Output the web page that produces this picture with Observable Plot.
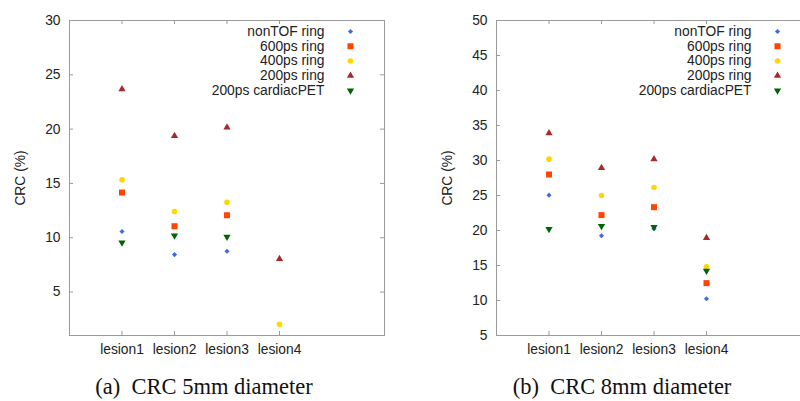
<!DOCTYPE html>
<html>
<head>
<meta charset="utf-8">
<script src="https://cdn.jsdelivr.net/npm/d3@7"></script>
<script src="https://cdn.jsdelivr.net/npm/@observablehq/plot@0.6"></script>
<style>
  html, body { margin: 0; padding: 0; background: #fff; }
  #wrap { position: relative; width: 800px; height: 401px; overflow: hidden; background: #fff; }
  .panel { position: absolute; top: 0; }
  .panel svg { max-width: none !important; }
  .cap { position: absolute; top: 374px; font-family: "Liberation Serif", "DejaVu Serif", serif; font-size: 22.5px; color: #111; white-space: pre; transform: translateX(-50%); }
</style>
</head>
<body>
<div id="wrap">
  <div id="left" class="panel" style="left:0px; width:400px"></div>
  <div id="right" class="panel" style="left:400px; width:420px"></div>
  <div class="cap" style="left:204px">(a)  CRC 5mm diameter</div>
  <div class="cap" style="left:622px">(b)  CRC 8mm diameter</div>
</div>
<script>
const lesions = ["lesion1", "lesion2", "lesion3", "lesion4"];
const series = ["nonTOF ring", "600ps ring", "400ps ring", "200ps ring", "200ps cardiacPET"];
const colors = ["#4169e1", "#ff4500", "#ffd700", "#a52a2a", "#006400"];

// CRC (%) for 5mm diameter lesions (null = not shown)
const crc5_nonTOF  = [10.57, 8.45, 8.76, null];
const crc5_600     = [14.16, 11.06, 12.07, null];
const crc5_400     = [15.33, 12.41, 13.27, 2.04];
const crc5_200     = [23.68, 19.38, 20.15, 8.05];
const crc5_cardiac = [9.56, 10.20, 10.08, null];

// CRC (%) for 8mm diameter lesions
const crc8_nonTOF  = [25.05, 19.24, 20.24, 10.24];
const crc8_600     = [28.00, 22.20, 23.33, 12.48];
const crc8_400     = [30.19, 25.00, 26.14, 14.81];
const crc8_200     = [33.90, 28.95, 30.19, 18.95];
const crc8_cardiac = [20.20, 20.62, 20.48, 14.24];

const yTicks5 = [5, 10, 15, 20, 25, 30];
const yTicks8 = [5, 10, 15, 20, 25, 30, 35, 40, 45, 50];
const xTicks = [1, 2, 3, 4];

const symbols = [
  {symbol: "diamond2", r: 2.3, rotate: 0},
  {symbol: "square", r: 3.4, rotate: 0},
  {symbol: "circle", r: 2.8, rotate: 0},
  {symbol: "triangle", r: 2.7, rotate: 0},
  {symbol: "triangle", r: 2.7, rotate: 180}
];

function chart(seriesValues, yDomain, yTicks, width, marginLeft, marginRight) {
  const height = 360, marginTop = 20, marginBottom = 25;
  const fw = width - marginLeft - marginRight;
  const fh = height - marginTop - marginBottom;
  const grey = "#9a9a9a";
  const fs = 13.8;
  const marks = [
    Plot.frame({stroke: grey, strokeWidth: 1}),
    Plot.ruleX(xTicks, {x: d => d, insetTop: fh - 4, stroke: grey}),
    Plot.ruleX(xTicks, {x: d => d, insetBottom: fh - 4, stroke: grey}),
    Plot.ruleY(yTicks, {y: d => d, insetRight: fw - 4, stroke: grey}),
    Plot.ruleY(yTicks, {y: d => d, insetLeft: fw - 4, stroke: grey}),
    Plot.axisX(xTicks, {tickSize: 0, tickPadding: 9, tickFormat: d => lesions[d - 1], label: null, fill: "#222", fontSize: fs}),
    Plot.axisY(yTicks, {tickSize: 0, tickPadding: 9, label: "CRC (%)", labelAnchor: "center", labelArrow: "none", labelOffset: 54, fill: "#222", fontSize: fs})
  ];
  seriesValues.forEach((vals, s) => {
    const data = vals.map((v, i) => ({x: i + 1, y: v})).filter(d => d.y != null);
    marks.push(Plot.dot(data, {x: "x", y: "y", fill: colors[s], stroke: "none", symbol: symbols[s].symbol, r: symbols[s].r, rotate: symbols[s].rotate}));
    marks.push(Plot.text([series[s]], {text: d => d, frameAnchor: "top-right", lineAnchor: "middle", dx: -60, dy: 11 + s * 14.75, textAnchor: "end", fill: "#222", fontSize: fs}));
    marks.push(Plot.dot([series[s]], {frameAnchor: "top-right", dx: -34, dy: 11 + s * 14.75, fill: colors[s], stroke: "none", symbol: symbols[s].symbol, r: symbols[s].r, rotate: symbols[s].rotate}));
  });
  return Plot.plot({
    width, height, marginTop, marginBottom, marginLeft, marginRight,
    style: {fontFamily: "'Liberation Sans', Arial, sans-serif", fontSize: fs + "px", background: "#fff", overflow: "visible", maxWidth: "none"},
    x: {type: "linear", domain: [0, 6], axis: null},
    y: {type: "linear", domain: yDomain, axis: null},
    marks
  });
}

document.getElementById("left").appendChild(
  chart([crc5_nonTOF, crc5_600, crc5_400, crc5_200, crc5_cardiac], [1, 30], yTicks5, 400, 69, 16)
);
document.getElementById("right").appendChild(
  chart([crc8_nonTOF, crc8_600, crc8_400, crc8_200, crc8_cardiac], [5, 50], yTicks8, 420, 96, 9)
);
</script>
</body>
</html>
